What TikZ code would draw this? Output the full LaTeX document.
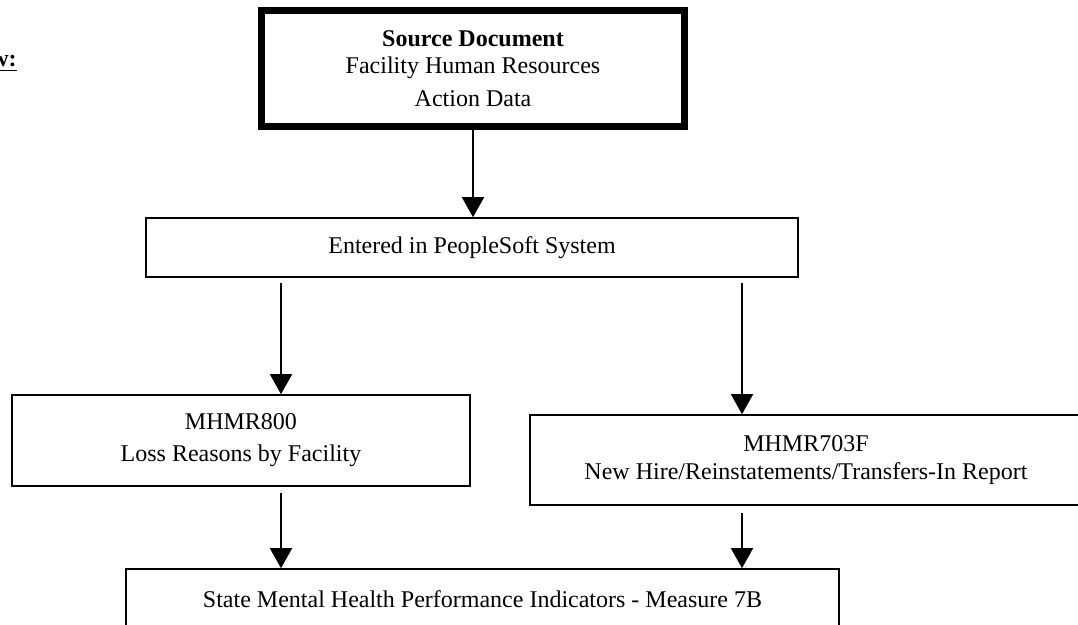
\documentclass[tikz,border=0pt]{standalone}
\usepackage{fontspec}
\setmainfont{Liberation Serif}
\usetikzlibrary{arrows.meta}

\begin{document}
\begin{tikzpicture}[x=0.5pt, y=-0.5pt, >={Triangle[width=11pt,length=10pt]}]
    \useasboundingbox (0,0) rectangle (1078,625);

    % --- ESTILOS ---
    \tikzset{flowbox/.style={draw=black, line width=0.8pt, rectangle, inner sep=0pt, align=center,
                             font=\fontsize{12pt}{14pt}\selectfont},
             srcbox/.style={flowbox, line width=3.5pt, font=\fontsize{12pt}{13.5pt}\selectfont},
             flowarrow/.style={->, line width=0.8pt}}

    % Columnas de las flechas
    \coordinate (Lx) at (281,0);
    \coordinate (Rx) at (742,0);

    % --- TITULO (cortado) ---
    \node[anchor=base east, inner sep=0pt, font=\fontsize{12pt}{14pt}\selectfont\bfseries] (flowlbl) at (17,67) {\underline{w:}};

    % --- CAJAS ---
    \node[srcbox, minimum width=211.5pt, minimum height=58pt] (src) at (473,68.5)
        {\textbf{Source Document}\\Facility Human Resources\\[3pt]Action Data};
    \node[flowbox, minimum width=326pt, minimum height=29.5pt] (entered) at (472,247.5)
        {Entered in PeopleSoft System};
    \node[flowbox, minimum width=229pt, minimum height=45.5pt] (loss) at (241,440.5)
        {MHMR800\\[2pt]Loss Reasons by Facility};
    \node[flowbox, minimum width=276pt, minimum height=45pt] (hire) at (806,460)
        {MHMR703F\\New Hire/Reinstatements/Transfers-In Report};
    \node[flowbox, minimum width=356.5pt, minimum height=30pt] (indic) at (482.5,599)
        {State Mental Health Performance Indicators - Measure 7B};

    % --- FLECHAS ---
    \draw[flowarrow] (src.south) -- (src.south |- entered.north);
    \draw[flowarrow, shorten <=2.5pt] (Lx |- entered.south) -- (Lx |- loss.north);
    \draw[flowarrow, shorten <=2.5pt] (Rx |- entered.south) -- (Rx |- hire.north);
    \draw[flowarrow, shorten <=3pt] (Lx |- loss.south) -- (Lx |- indic.north);
    \draw[flowarrow, shorten <=3.5pt] (Rx |- hire.south) -- (Rx |- indic.north);

\end{tikzpicture}
\end{document}
